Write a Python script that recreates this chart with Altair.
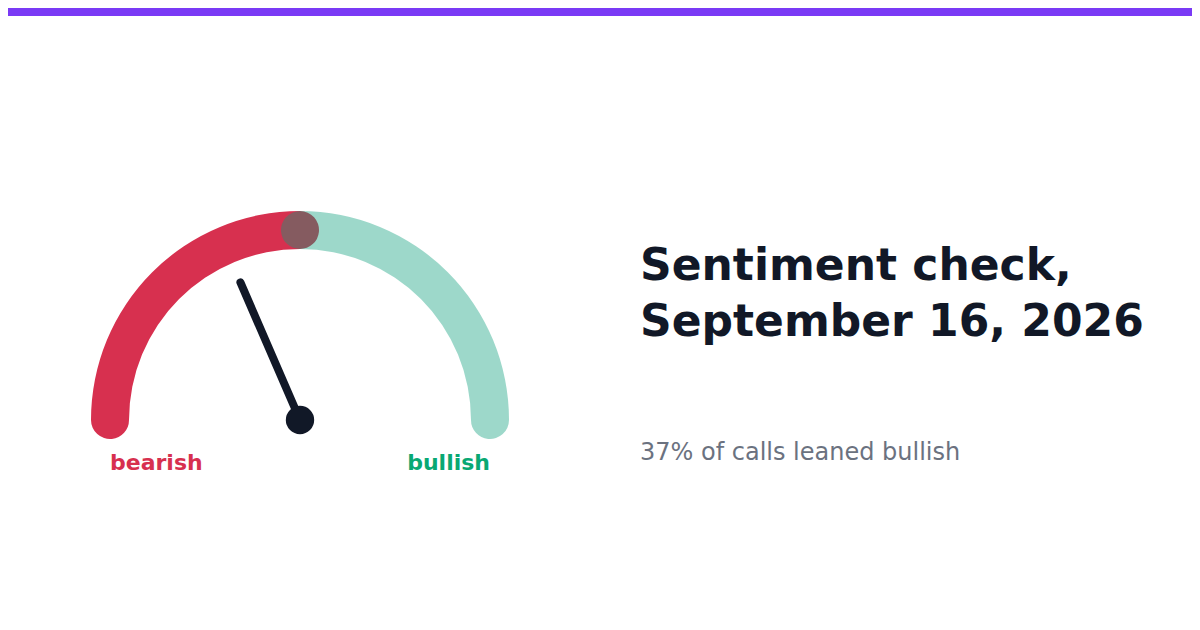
import math
import altair as alt
import pandas as pd

# ---- data ----
sentiment_value = [37]                 # % of calls that leaned bullish
segments = ["bearish", "bullish"]
segment_start = [0, 50]
segment_end = [50, 100]
title_lines = ["Sentiment check,", "September 16, 2026"]
subtitle_text = f"{sentiment_value[0]}% of calls leaned bullish"

# ---- layout / style constants ----
W, H = 1184, 614          # chart size (page has 8px margin)
OFF = 8                   # page margin -> image coordinates
CX, CY = 300, 420         # gauge centre (image coordinates)
R_OUT, R_IN = 209, 171
R_MID = (R_OUT + R_IN) / 2
HALF = (R_OUT - R_IN) / 2
CAP = math.asin(HALF / R_MID) / math.pi * 100   # round-cap extension in gauge units
NEEDLE = 150

RED = "#d7304f"
GREEN_ARC = "#0b9e7a"
GREEN_TXT = "#08a873"
DARK = "#111827"
GREY = "#6b7280"
PURPLE = "#7a3af5"
FONT = "DejaVu Sans"

xs = alt.Scale(domain=[OFF, OFF + W], nice=False, zero=False)
ys = alt.Scale(domain=[OFF, OFF + H], nice=False, zero=False, reverse=True)

seg_df = pd.DataFrame({"segment": segments, "start": segment_start, "end": segment_end})
val_df = pd.DataFrame({"value": sentiment_value})

arcs = alt.Chart(seg_df).transform_calculate(
    t0=f"datum.start - {CAP}", t1=f"datum.end + {CAP}"
).mark_arc(innerRadius=R_IN, outerRadius=R_OUT, cornerRadius=HALF).encode(
    x=alt.value(CX - OFF),
    y=alt.value(CY - OFF),
    theta=alt.Theta("t0:Q", stack=False,
                    scale=alt.Scale(domain=[0, 100], range=[-math.pi / 2, math.pi / 2])),
    theta2="t1:Q",
    color=alt.Color("segment:N", scale=alt.Scale(domain=segments, range=[RED, GREEN_ARC]), legend=None),
    opacity=alt.Opacity("segment:N", scale=alt.Scale(domain=segments, range=[1.0, 0.4]), legend=None),
    order=alt.Order("start:Q"),
)

needle = alt.Chart(val_df).transform_calculate(
    ang="PI * (1 - datum.value / 100)",
    cx=f"{CX}", cy=f"{CY}",
    tx=f"{CX} + {NEEDLE} * cos(datum.ang)",
    ty=f"{CY} - {NEEDLE} * sin(datum.ang)",
).mark_rule(color=DARK, strokeWidth=8, strokeCap="round").encode(
    x=alt.X("cx:Q", scale=xs, axis=None),
    y=alt.Y("cy:Q", scale=ys, axis=None),
    x2="tx:Q",
    y2="ty:Q",
)

hub = alt.Chart(val_df).mark_circle(color=DARK, opacity=1, size=math.pi * 16 ** 2).encode(
    x=alt.datum(CX, scale=xs, axis=None),
    y=alt.datum(CY, scale=ys, axis=None),
)

lab_bear = alt.Chart(seg_df).transform_filter(alt.datum.segment == segments[0]).mark_text(
    align="left", baseline="alphabetic", font=FONT, fontSize=22, fontWeight="bold", color=RED
).encode(x=alt.datum(CX - R_MID, scale=xs, axis=None), y=alt.datum(470, scale=ys, axis=None),
         text="segment:N")

lab_bull = alt.Chart(seg_df).transform_filter(alt.datum.segment == segments[1]).mark_text(
    align="right", baseline="alphabetic", font=FONT, fontSize=22, fontWeight="bold", color=GREEN_TXT
).encode(x=alt.datum(CX + R_MID, scale=xs, axis=None), y=alt.datum(470, scale=ys, axis=None),
         text="segment:N")

title = alt.Chart(val_df).mark_text(
    align="left", baseline="alphabetic", font=FONT, fontSize=44, fontWeight="bold",
    color=DARK, lineHeight=56,
).encode(x=alt.datum(640, scale=xs, axis=None), y=alt.datum(280, scale=ys, axis=None),
         text=alt.value(title_lines))

subtitle = alt.Chart(val_df).mark_text(
    align="left", baseline="alphabetic", font=FONT, fontSize=24, color=GREY
).encode(x=alt.datum(640, scale=xs, axis=None), y=alt.datum(460, scale=ys, axis=None),
         text=alt.value(subtitle_text))

topbar = alt.Chart(val_df).mark_rect(color=PURPLE).encode(
    x=alt.value(0), x2=alt.value(W), y=alt.value(0), y2=alt.value(8)
)

chart = alt.layer(arcs, needle, hub, lab_bear, lab_bull, title, subtitle, topbar).properties(
    width=W, height=H, padding=0, background="white"
).configure_view(stroke=None, strokeWidth=0).configure_axis(
    domain=False, ticks=False, labels=False, grid=False
)

chart.save("out.html", embed_options={"renderer": "svg", "actions": False})
